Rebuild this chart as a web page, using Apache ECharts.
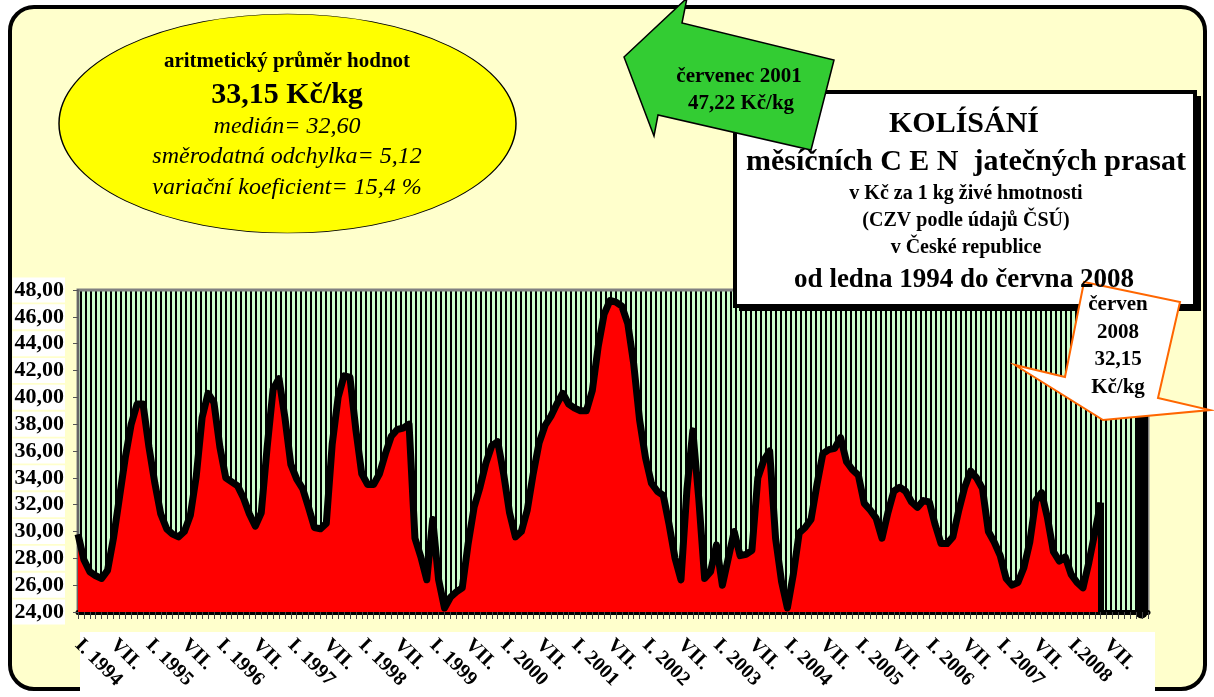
<!DOCTYPE html>
<html>
<head>
<meta charset="utf-8">
<style>
html, body { margin: 0; padding: 0; background: #fff; }
#chart { width: 1214px; height: 697px; }
</style>
<script src="https://cdn.jsdelivr.net/npm/echarts@6.0.0/dist/echarts.min.js"></script>
</head>
<body>
<div id="chart"></div>
<script>
// mesicni ceny jatecnych prasat, Kc/kg, I.1994 - VI.2008
var prices = [
  29.8, 27.9, 27.0, 26.7, 26.5, 27.1, 29.5, 32.5, 35.5, 38.0, 39.5, 39.5,
  36.3, 33.6, 31.3, 30.2, 29.8, 29.6, 30.0, 31.2, 34.1, 38.5, 40.3, 39.6,
  36.3, 34.0, 33.7, 33.4, 32.5, 31.3, 30.4, 31.4, 36.3, 40.6, 41.4, 38.5,
  35.0, 33.9, 33.2, 31.8, 30.3, 30.2, 30.6, 36.5, 40.0, 41.6, 41.5, 37.6,
  34.3, 33.5, 33.5, 34.3, 35.8, 37.1, 37.6, 37.7, 38.0, 29.5, 28.1, 26.4,
  30.9, 26.4, 24.3, 25.1, 25.5, 25.8, 29.1, 31.8, 33.3, 35.1, 36.4, 36.7,
  34.3, 31.4, 29.6, 30.0, 31.6, 34.3, 36.6, 37.9, 38.6, 39.5, 40.3, 39.5,
  39.2, 39.0, 39.0, 40.5, 43.8, 46.2, 47.22, 47.1, 46.8, 45.5, 42.5, 38.3,
  35.5, 33.6, 33.0, 32.7, 30.5, 28.0, 26.4, 33.1, 37.5, 32.5, 26.5, 27.0,
  29.0, 26.0, 28.0, 30.0, 28.2, 28.3, 28.6, 34.0, 35.3, 36.0, 29.5, 26.3,
  24.3, 26.8, 29.9, 30.3, 30.9, 33.5, 35.8, 36.1, 36.2, 37.0, 35.2, 34.6,
  34.2, 32.1, 31.6, 31.0, 29.5, 31.4, 33.0, 33.3, 33.0, 32.2, 31.8, 32.3,
  32.2, 30.5, 29.1, 29.1, 29.6, 31.6, 33.3, 34.5, 34.0, 33.2, 30.0, 29.2,
  28.2, 26.5, 26.0, 26.2, 27.3, 29.2, 32.3, 32.9, 31.0, 28.5, 27.8, 28.1,
  26.8, 26.2, 25.8, 27.7, 29.9, 32.15
];

var yearLabels = ['I. 1994', 'I. 1995', 'I. 1996', 'I. 1997', 'I. 1998', 'I. 1999', 'I. 2000',
  'I. 2001', 'I. 2002', 'I. 2003', 'I. 2004', 'I. 2005', 'I. 2006', 'I. 2007', 'I.2008'];
var midLabel = 'VII.';
var yMin = 24, yMax = 48, yStep = 2;

// osa mesicu: I.1994 - II.2009
var months = [];
var tickLabels = [];
for (var y = 1994; y <= 2009; y++) {
  for (var m = 1; m <= 12; m++) {
    if (y === 2009 && m > 2) break;
    months.push(y + '-' + (m < 10 ? '0' : '') + m);
    var yi = y - 1994;
    if (m === 1 && yi < yearLabels.length) tickLabels.push(yearLabels[yi]);
    else if (m === 7 && y <= 2008) tickLabels.push(midLabel);
    else tickLabels.push('');
  }
}
var last = prices.length - 1;

// sraffovani pozadi
var hatch = document.createElement('canvas');
hatch.width = 5; hatch.height = 4;
var hctx = hatch.getContext('2d');
hctx.fillStyle = '#ccffcc';
hctx.fillRect(0, 0, 5, 4);
hctx.fillStyle = '#000';
hctx.fillRect(0, 0, 2, 4);

var serif = '"Liberation Serif", "Times New Roman", serif';
function f(size, style) { return (style || 'bold') + ' ' + size + 'px ' + serif; }
function txt(text, x, y, font) {
  return { type: 'text', x: x, y: y, z: 110,
    style: { text: text, font: font, fill: '#000', align: 'center', verticalAlign: 'middle' } };
}

var option = {
  animation: false,
  grid: {
    left: 78, right: 66, top: 290, bottom: 85,
    show: true,
    backgroundColor: { image: hatch, repeat: 'repeat' },
    borderColor: '#808080',
    borderWidth: 3
  },
  xAxis: {
    type: 'category',
    boundaryGap: false,
    data: months,
    axisLine: { lineStyle: { color: '#000', width: 5 } },
    axisTick: { interval: 0, length: 7, lineStyle: { color: '#444', width: 1 } },
    axisLabel: {
      interval: function (idx) { return tickLabels[idx] !== ''; },
      formatter: function (v, idx) { return tickLabels[idx]; },
      rotate: -45,
      margin: 30,
      color: '#000',
      fontFamily: serif,
      fontWeight: 'bold',
      fontSize: 20
    },
    splitLine: { show: false }
  },
  yAxis: [
    {
      type: 'value',
      min: yMin, max: yMax, interval: yStep,
      axisLine: { show: true, lineStyle: { color: '#666', width: 2 } },
      axisTick: { show: true, length: 5, lineStyle: { color: '#555' } },
      axisLabel: {
        formatter: function (v) { return v.toFixed(2).replace('.', ','); },
        color: '#000',
        fontFamily: serif,
        fontWeight: 'bold',
        fontSize: 22,
        backgroundColor: '#fff',
        padding: [2, 1, 1, 2],
        margin: 13
      },
      splitLine: { show: false }
    },
    {
      type: 'value',
      position: 'right',
      min: yMin, max: yMax,
      offset: -7,
      axisLine: { show: true, lineStyle: { color: '#000', width: 13 } },
      axisTick: { show: false },
      axisLabel: { show: false },
      splitLine: { show: false }
    }
  ],
  series: [
    {
      type: 'line',
      data: prices,
      symbol: 'none',
      lineStyle: { color: '#000', width: 7, join: 'round' },
      areaStyle: { color: '#ff0000', opacity: 1, origin: 'start' },
      markLine: {
        silent: true,
        symbol: 'none',
        label: { show: false },
        lineStyle: { color: '#000', width: 6, type: 'solid' },
        data: [[{ coord: [months[last], prices[last]] }, { coord: [months[last], yMin] }]]
      }
    }
  ],
  graphic: [
    // ram grafu
    { type: 'rect', z: -10, shape: { x: 10, y: 7, width: 1195, height: 682, r: 24 },
      style: { fill: '#ffffcc', stroke: '#000', lineWidth: 4 } },
    // podklad popisku osy x
    { type: 'rect', z: -9, shape: { x: 80, y: 632, width: 1075, height: 65 },
      style: { fill: '#fff' } },
    // elipsa se statistikou
    { type: 'circle', z: 100, x: 287.5, y: 123.5, scaleY: 109.5 / 228.5,
      shape: { cx: 0, cy: 0, r: 228.5 },
      style: { fill: '#ffff00', stroke: '#000', lineWidth: 1.5, strokeNoScale: true } },
    txt('aritmetický průměr hodnot', 287, 62, f(21)),
    txt('33,15 Kč/kg', 287, 95, f(30)),
    txt('medián= 32,60', 287, 127, f(24, 'italic')),
    txt('směrodatná odchylka= 5,12', 287, 157, f(24, 'italic')),
    txt('variační koeficient= 15,4 %', 287, 188, f(24, 'italic')),
    // nadpis
    { type: 'rect', z: 100, shape: { x: 739, y: 96, width: 462, height: 215 },
      style: { fill: '#000' } },
    { type: 'rect', z: 100, shape: { x: 735, y: 92, width: 460, height: 214 },
      style: { fill: '#fff', stroke: '#000', lineWidth: 4 } },
    txt('KOLÍSÁNÍ', 964, 124, f(30)),
    txt('měsíčních C E N  jatečných prasat', 966, 162, f(30)),
    txt('v Kč za 1 kg živé hmotnosti', 966, 194, f(20)),
    txt('(CZV podle údajů ČSÚ)', 966, 221, f(20)),
    txt('v České republice', 966, 248, f(20)),
    txt('od ledna 1994 do června 2008', 964, 280, f(27)),
    // zelena sipka - maximum
    { type: 'polygon', z: 105,
      shape: { points: [[624, 57], [687, -2], [682, 23], [834, 60], [811, 150], [658, 115], [654, 136]] },
      style: { fill: '#33cc33', stroke: '#000', lineWidth: 1.5 } },
    txt('červenec 2001', 739, 77, f(21)),
    txt('47,22 Kč/kg', 741, 104, f(21)),
    // bublina - posledni hodnota
    { type: 'polygon', z: 105,
      shape: { points: [[1084, 282], [1180, 302], [1158, 398], [1210, 410], [1103, 420], [1015, 365], [1065, 377]] },
      style: { fill: '#fff', stroke: '#ff6600', lineWidth: 2 } },
    txt('červen', 1118, 305, f(21)),
    txt('2008', 1118, 333, f(21)),
    txt('32,15', 1118, 360, f(21)),
    txt('Kč/kg', 1118, 388, f(21))
  ]
};

var chartPrasata = echarts.init(document.getElementById('chart'));
chartPrasata.setOption(option);
</script>
</body>
</html>
